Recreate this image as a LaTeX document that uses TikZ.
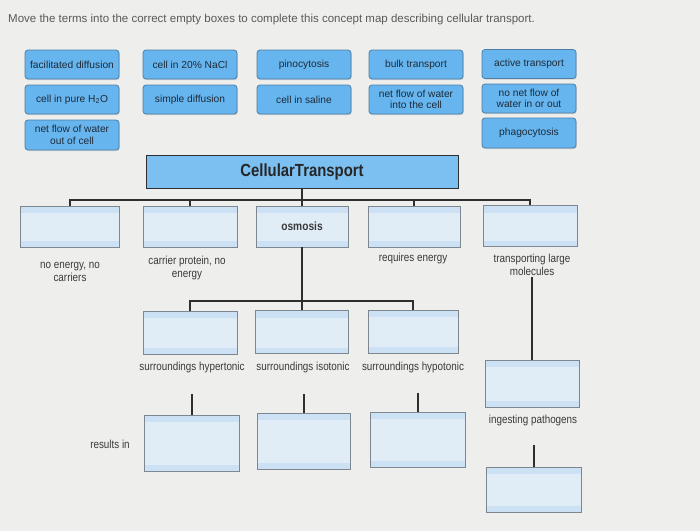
\documentclass[tikz,border=0pt]{standalone}
\usepackage{fontspec}
\usetikzlibrary{shadows}
\setmainfont{Liberation Sans}
\newfontfamily\mapfont{Liberation Sans}[FakeStretch=0.85]
\definecolor{bg}{HTML}{EEEEEC}
\definecolor{palfill}{HTML}{66B5EE}
\definecolor{palborder}{HTML}{4D7EA6}
\definecolor{paltext}{HTML}{1E2A38}
\definecolor{ctfill}{HTML}{7CC0F2}
\definecolor{ebfill}{HTML}{E0EDF7}
\definecolor{ebband}{HTML}{CCE2F4}
\definecolor{ebborder}{HTML}{7E8790}
\definecolor{lncol}{HTML}{2E2E2E}
\definecolor{txt}{HTML}{3A3A3A}
\tikzset{
  pal/.style={draw=palborder, fill=palfill, rounded corners=3pt, minimum width=94pt,
    minimum height=29pt, inner sep=1pt, align=center, text=paltext,
    font=\fontsize{10.2}{11.6}\selectfont, line width=0.8pt,
    drop shadow={opacity=0.25, shadow xshift=0.8pt, shadow yshift=-1.2pt}},
  eb/.style={draw=ebborder, fill=ebfill, line width=0.9pt, inner sep=0pt,
    path picture={
      \fill[ebband] (path picture bounding box.north west) rectangle ([yshift=-7pt]path picture bounding box.north east);
      \fill[ebband] (path picture bounding box.south west) rectangle ([yshift=6pt]path picture bounding box.south east);}},
  lbl/.style={align=center, text=txt, font=\mapfont\fontsize{11.6}{13.5}\selectfont, inner sep=1pt},
  ln/.style={draw=lncol, line width=2pt},
}
\begin{document}
\begin{tikzpicture}[x=1pt,y=-1pt]
\fill[bg] (0,0) rectangle (700,531);
\useasboundingbox (0,0) rectangle (700,531);
\node[anchor=west, text=black!65, font=\fontsize{11.5}{13}\selectfont, inner sep=0pt] (title) at (8,20)
  {Move the terms into the correct empty boxes to complete this concept map describing cellular transport.};
% palette
\node[pal] (p11) at (72,64.5) {facilitated diffusion};
\node[pal] (p12) at (190,64.5) {cell in 20\% NaCl};
\node[pal] (p13) at (304,64.5) {pinocytosis};
\node[pal] (p14) at (416,64.5) {bulk transport};
\node[pal] (p15) at (529,64) {active transport};
\node[pal] (p21) at (72,99.5) {cell in pure H\textsubscript{2}O};
\node[pal] (p22) at (190,99.5) {simple diffusion};
\node[pal] (p23) at (304,99.5) {cell in saline};
\node[pal] (p24) at (416,99.5) {net flow of water\\into the cell};
\node[pal] (p25) at (529,98.5) {no net flow of\\water in or out};
\node[pal, minimum height=30pt] (p31) at (72,135) {net flow of water\\out of cell};
\node[pal, minimum height=30pt] (p35) at (529,133) {phagocytosis};
% map
\node[draw=lncol, fill=ctfill, line width=0.9pt, minimum width=312pt, minimum height=33pt,
  font=\mapfont\bfseries\fontsize{17.5}{19}\selectfont, text=black!85] (ct) at (302,171.5) {CellularTransport};
\node[eb, minimum width=99pt, minimum height=41pt] (b1) at (69.5,226.5) {};
\node[eb, minimum width=94pt, minimum height=41pt] (b2) at (190,226.5) {};
\node[eb, minimum width=92pt, minimum height=41pt, font=\mapfont\bfseries\fontsize{12}{14}\selectfont, text=txt] (b3) at (302,226.5) {osmosis};
\node[eb, minimum width=92pt, minimum height=41pt] (b4) at (414,226.5) {};
\node[eb, minimum width=94pt, minimum height=41pt] (b5) at (530,226) {};
\draw[ln] (b1.north) -- ++(0,-6) -| (b5.north);
\draw[ln] (b2.north) -- ++(0,-6);
\draw[ln] (b4.north) -- ++(0,-6);
\draw[ln] (ct.south) -- (b3.north);
\node[lbl] (l1) at (70,272) {no energy, no\\carriers};
\node[lbl] (l2) at (187,268) {carrier protein, no\\energy};
\node[lbl] (l4) at (413,258) {requires energy};
\node[lbl] (l5) at (532,265) {transporting large\\molecules};
% level 3
\node[eb, minimum width=94pt, minimum height=43pt] (c1) at (190,332.5) {};
\node[eb, minimum width=93pt, minimum height=43pt] (c2) at (302,332) {};
\node[eb, minimum width=90pt, minimum height=43pt] (c3) at (413,331.5) {};
\draw[ln] (c1.north) -- ++(0,-10) -| (c3.north);
\draw[ln] (b3.south) -- (c2.north);
\node[lbl] (s1) at (192,367) {surroundings hypertonic};
\node[lbl] (s2) at (303,367) {surroundings isotonic};
\node[lbl] (s3) at (413,367) {surroundings hypotonic};
% level 4
\node[eb, minimum width=95pt, minimum height=56pt] (d1) at (191.5,443) {};
\node[eb, minimum width=93pt, minimum height=56pt] (d2) at (303.5,441) {};
\node[eb, minimum width=95pt, minimum height=55pt] (d3) at (418,439.5) {};
\draw[ln] (d1.north) -- ++(0,-21);
\draw[ln] (d2.north) -- ++(0,-19);
\draw[ln] (d3.north) -- ++(0,-19);
\node[lbl] (ri) at (110,444) {results in};
% right column
\node[eb, minimum width=94pt, minimum height=47pt] (r1) at (532,383.5) {};
\draw[ln] (l5.south) -- (r1.north);
\node[lbl] (ip) at (533,420) {ingesting pathogens};
\node[eb, minimum width=95pt, minimum height=45pt] (r2) at (534,489.5) {};
\draw[ln] (r2.north) -- ++(0,-22);
\end{tikzpicture}
\end{document}
